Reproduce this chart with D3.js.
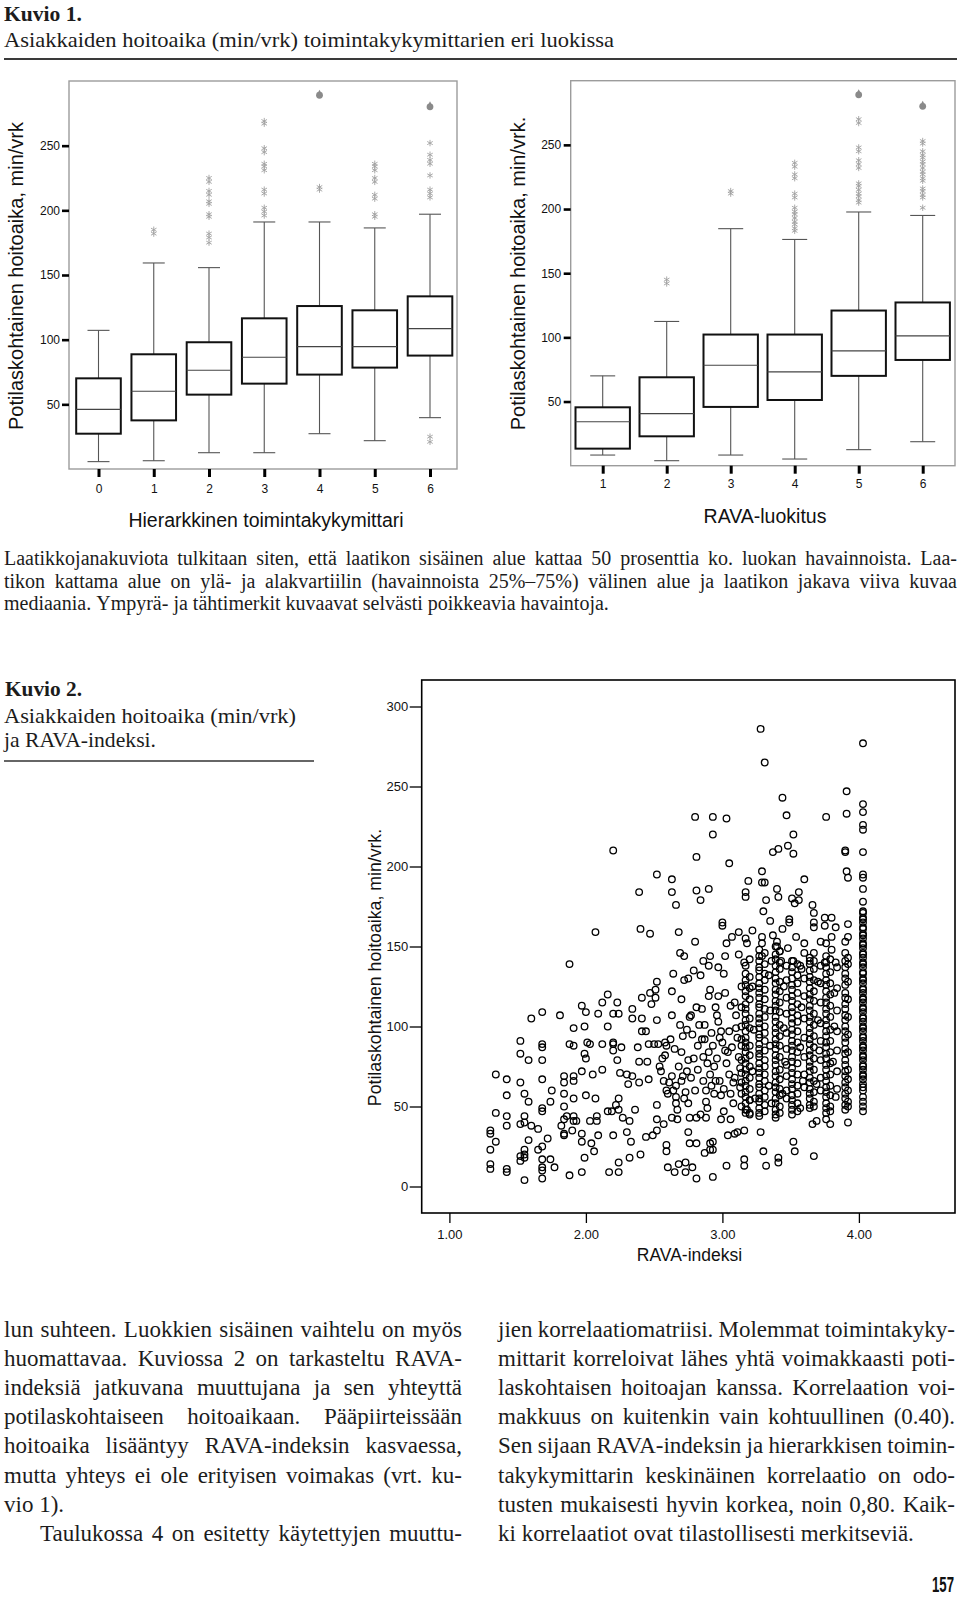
<!DOCTYPE html>
<html><head><meta charset="utf-8">
<script src="https://cdn.jsdelivr.net/npm/d3@7"></script>
<style>body{margin:0;background:#fff} svg{display:block}</style>
</head><body>
<svg id="page" width="960" height="1602"></svg>
<script>
// ---------------- DATA ----------------
// Kuvio 1, left: Hierarkkinen toimintakykymittari
const leftCats = ["0","1","2","3","4","5","6"];
const leftWhiskLo = [5.7, 6.4, 12.6, 12.6, 27.3, 21.9, 39.7];
const leftQ1 = [27.3, 37.6, 57.5, 66, 73, 78.4, 87.7];
const leftMed = [46.1, 60.1, 76.3, 86.4, 94.6, 94.6, 108.5];
const leftQ3 = [70.1, 88.7, 98, 116.5, 126, 122.7, 133.5];
const leftWhiskHi = [107.2, 159.3, 155.7, 191, 191, 186.4, 197];
const leftStars = [[], [185,182], [225,222,215,212,207,205,197,195,182,179,175],
  [269,267,248,245,236,234,231,216,213,202,199,196], [218,216],
  [236,234,231,225,222,212,209,197,195], [252,243,239,236,227,216,213,210,25,21]];
const leftExtremes = [[],[],[],[],[289],[],[280]];

// Kuvio 1, right: RAVA-luokitus
const rightCats = ["1","2","3","4","5","6"];
const rightWhiskLo = [8.3, 3.9, 8.3, 5.2, 12.5, 18.7];
const rightQ1 = [13.3, 22.9, 45.8, 51.2, 70, 82.4];
const rightMed = [34.3, 40.6, 78.3, 73.1, 89.5, 101.2];
const rightQ3 = [45.5, 68.9, 102.2, 102.2, 120.9, 127.2];
const rightWhiskHi = [70, 112.4, 184.7, 176.3, 197.7, 195];
const rightStars = [[], [145,142], [214,212],
  [236,233,227,224,212,209,201,198,196,193,190,188,185,183],
  [270,267,248,245,238,235,232,220,218,215,212,210,207,205],
  [253,251,245,242,240,237,235,232,229,227,224,222,216,214,211,209,201]];
const rightExtremes = [[],[],[],[],[289],[280]];

const boxTicks = [50,100,150,200,250];
const scatterYTicks = [0,50,100,150,200,250,300];
const scatterXTicks = [1,2,3,4];

// Kuvio 2: scatter, dense columns (x, list of y)
const colX = [3.14, 3.17, 3.20, 3.27, 3.31, 3.39, 3.42, 3.47, 3.51, 3.55, 3.60, 3.64, 3.67, 3.72, 3.76, 3.79, 3.84, 3.90, 3.92, 4.03];
const colY = [
 [125,112,100,92,79,71,65,58,50],
 [138,133,129,126,122,119,114,111,108,104,101,97,93,90,87,84,80,77,73,70,66,63,59,56,52,48,46],
 [142,131,124,117,105,99,88,82,75,68,61,54,45],
 [148,144,141,137,135,131,127,124,121,118,114,112,108,105,102,99,95,93,89,86,83,81,77,74,71,68,64,62,58,55,53,49,46,44],
 [146,139,133,129,123,117,111,106,100,96,91,85,79,75,70,66,60,56,51,47],
 [150,145,142,138,134,130,127,123,120,116,113,110,106,103,99,96,92,89,86,82,79,76,72,69,65,62,59,55,52,48,45,43],
 [147,140,136,128,122,115,109,101,94,88,81,73,67,61,57,50,46],
 [138,129,118,108,96,86,76,69,60,55],
 [141,137,134,130,126,123,119,116,112,109,105,102,98,95,91,88,85,81,78,74,71,67,64,61,57,54,51,48,45],
 [139,132,127,121,114,107,103,97,90,84,77,70,63,58,52,47],
 [130,119,105,93,81,70,62],
 [143,139,135,131,128,124,120,117,113,110,106,103,99,96,92,89,85,82,78,75,72,68,65,61,58,55,51,49],
 [141,136,129,122,116,108,101,94,87,80,73,66,59,53,50],
 [138,127,115,102,91,79,68,60],
 [144,140,137,133,129,126,122,118,115,111,108,104,101,97,94,90,87,83,80,76,73,69,66,62,59,56,52,49,46],
 [142,134,127,120,113,106,98,91,84,77,70,63,57,50,47],
 [137,124,110,97,85,72,61],
 [146,141,137,133,130,126,121,118,114,111,107,104,100,97,93,90,86,83,79,76,72,69,65,62,58,55,51,48],
 [139,128,117,106,95,84,73,67,60,53,50],
 [172,171,168,167,165,162,161,158,157,155,152,151,149,146,145,143,140,139,137,134,133,130,129,127,124,123,121,118,117,115,112,111,109,106,105,103,100,99,97,94,93,91,88,87,85,82,81,79,76,75,73,70,69,67,64,62,60,56,53,50,47]
];
// Kuvio 2: scattered single points [x, y]
const scatterPts = [
 [3.28,286],[4.03,277],[3.31,265],[3.91,247],[3.44,243],[4.03,239],[3.91,233],[4.03,234],[2.80,231],[2.93,231],[3.03,230],[3.47,232],[3.76,231],[4.03,226],[4.03,223],[2.93,220],[3.52,220],[3.48,213],[3.41,211],[3.37,209],[3.52,208],[2.20,210],[3.90,210],[3.90,209],[4.03,209],[2.81,206],[3.05,202],[3.29,197],[3.91,197],[3.92,193],[4.03,195],[4.03,193],[2.52,195],[2.63,192],[3.60,192],[3.19,191],[3.29,190],[3.31,190],[2.39,184],[2.63,184],[2.81,185],[2.90,186],[3.17,184],[3.17,181],[3.40,186],[3.41,181],[3.56,184],[3.51,180],[3.53,177],[3.56,179],[3.32,179],[4.03,186],[4.03,178],[2.66,176],[2.84,179],[3.66,176],[3.67,171],[3.30,172],[3.35,166],[3.49,167],[3.49,165],[3.00,165],[3.00,163],[3.67,165],[3.67,162],[3.75,168],[3.80,168],[3.75,163],[3.83,162],[3.92,164],[2.40,161],[2.07,159],[2.47,158],[2.68,159],[3.12,159],[3.07,156],[3.22,160],[3.29,156],[3.44,161],[3.37,157],[3.54,156],[3.80,156],[2.80,153],[3.03,152],[3.17,155],[3.18,152],[3.29,152],[3.40,153],[3.60,152],[3.72,153],[3.76,152],[3.90,153],[3.92,156],[3.80,148],[3.48,149],[3.40,150],[2.69,146],[2.72,144],[3.02,144],[3.12,145],[2.91,144],[3.60,146],[3.67,146],[3.42,147],[3.29,144],[3.92,143],[1.88,139],[2.86,141],[2.90,138],[2.97,137],[3.16,140],[3.36,141],[3.43,141],[3.52,141],[3.57,138],[3.64,141],[3.75,140],[3.83,140],
 [1.30,35],[1.30,33],[1.30,23],[1.30,14],[1.30,11],[1.34,70],[1.34,46],[1.34,28],[1.42,67],[1.42,57],[1.42,44],[1.42,38],[1.42,11],[1.42,9],[1.52,91],[1.52,83],[1.52,65],[1.52,39],[1.52,19],[1.52,16],[1.55,58],[1.55,44],[1.55,40],[1.55,23],[1.55,20],[1.55,18],[1.55,4],[1.58,79],[1.58,53],[1.58,29],[1.60,105],[1.60,38],[1.65,36],[1.65,23],[1.68,109],[1.68,89],[1.68,87],[1.68,79],[1.68,67],[1.68,49],[1.68,47],[1.68,25],[1.68,17],[1.68,12],[1.68,10],[1.68,5],[1.72,30],[1.74,53],[1.74,17],[1.75,60],[1.77,12],[1.81,107],[1.82,38],[1.84,32],[1.84,69],[1.84,65],[1.84,58],[1.84,50],[1.84,42],[1.84,33],[1.86,44],[1.88,89],[1.88,7],[1.90,35],[1.91,88],[1.91,99],[1.91,69],[1.91,66],[1.91,44],[1.91,41],[1.93,41],[1.91,55],[1.97,113],[1.97,72],[1.97,33],[1.97,28],[1.97,9],[1.99,83],[1.99,100],[1.99,18],[2.00,109],[2.00,80],[2.00,57],[2.01,90],[2.03,89],[2.03,41],[2.04,27],[2.05,70],[2.06,22],[2.07,55],[2.08,44],[2.08,41],[2.09,108],[2.09,32],[2.12,89],[2.12,73],[2.12,115],[2.16,120],[2.16,100],[2.16,47],[2.17,9],[2.19,47],[2.20,108],[2.20,90],[2.20,89],[2.20,85],[2.20,32],[2.22,51],[2.23,115],[2.23,79],[2.24,108],[2.24,55],[2.24,48],[2.24,15],[2.24,9],[2.25,71],[2.26,87],[2.27,43],[2.30,34],[2.30,70],[2.31,64],[2.32,41],[2.32,18],[2.33,28],[2.34,111],[2.34,105],[2.34,69],[2.36,48],[2.38,87],[2.39,65],[2.39,78],[2.40,20],[2.41,118],[2.41,97],[2.41,105],[2.44,97],[2.44,31],[2.45,78],[2.46,67],[2.46,89],[2.47,121],[2.48,114],[2.49,32],[2.50,89],[2.51,118],[2.51,123],[2.52,128],[2.52,104],[2.52,51],[2.52,42],[2.52,35],[2.53,89],[2.54,75],[2.56,80],[2.57,39],[2.58,90],[2.58,82],[2.59,88],[2.59,26],[2.59,22],[2.60,12],[2.60,58],[2.61,65],[2.63,107],[2.63,122],[2.63,69],[2.63,43],[2.64,133],[2.65,9],[2.66,56],[2.66,63],[2.67,48],[2.67,42],[2.68,14],[2.70,84],[2.70,117],[2.71,94],[2.71,69],[2.72,129],[2.73,59],[2.73,15],[2.73,9],[2.74,98],[2.75,52],[2.75,130],[2.75,34],[2.75,79],[2.76,27],[2.76,106],[2.77,107],[2.78,12],[2.79,135],[2.81,43],[2.81,5],[2.81,27],[2.82,88],[2.82,73],[2.84,132],[2.85,111],[2.86,81],[2.87,101],[2.87,92],[2.87,21],[2.88,60],[2.88,43],[2.88,53],[2.90,119],[2.91,123],[2.91,27],[2.91,23],[2.93,28],[2.93,23],[2.93,6],[2.94,75],[2.95,66],[2.96,107],[2.97,119],[2.98,93],[2.99,42],[2.99,57],[3.01,133],[3.01,47],[3.02,121],[3.03,13],[3.04,32],[3.04,84],[3.05,97],[3.06,42],[3.06,113],[3.08,65],[3.09,33],[3.09,115],[3.11,34],[3.14,88],[3.16,35],[3.16,17],[3.16,13],[3.18,48],[3.20,46],[3.20,54],[3.30,22],[3.28,34],[3.32,13],[3.41,18],[3.41,15],[3.52,28],[3.53,22],[3.67,19],[3.66,39],[3.69,41],[3.76,42],[3.79,39],[3.92,40],
 [2.95,112],[2.97,103],[2.99,97],[3.00,90],[3.02,85],[2.96,80],[3.03,77],[3.05,70],[2.98,66],[3.01,61],[3.06,58],[3.08,52],[3.10,99],[3.11,93],[3.12,81],[3.13,74],[3.09,68],[3.10,107],[3.13,62],[3.07,87],[2.92,96],[2.93,88],[2.90,84],[2.89,77],[2.91,70],[2.92,63],[2.94,58],[2.89,49],[2.86,66],[2.85,92],[2.84,45],
 [2.62,92],[2.65,86],[2.68,75],[2.70,66],[2.72,55],[2.77,68],[2.79,80],[2.78,95],[2.80,60],[2.76,43],[2.69,101],[2.64,60],[2.66,52],[2.74,72],[2.81,112],[2.83,101],[2.55,72],[2.57,66],[2.59,60],
 [3.22,125],[3.23,98],[3.22,72],[3.24,55],[3.34,132],[3.35,110],[3.35,88],[3.34,63],[3.36,52],[3.45,125],[3.45,99],[3.46,78],[3.44,58],[3.58,136],[3.58,112],[3.57,87],[3.59,66],[3.57,49],[3.70,128],[3.70,104],[3.71,85],[3.69,64],[3.82,121],[3.82,100],[3.81,78],[3.83,56]
];

// Texts
const fig1Title = ["Kuvio 1.", "Asiakkaiden hoitoaika (min/vrk) toimintakykymittarien eri luokissa"];
const fig1Note = [
 "Laatikkojanakuviota tulkitaan siten, että laatikon sisäinen alue kattaa 50 prosenttia ko. luokan havainnoista. Laa-",
 "tikon kattama alue on ylä- ja alakvartiilin (havainnoista 25%–75%) välinen alue ja laatikon jakava viiva kuvaa",
 "mediaania. Ympyrä- ja tähtimerkit kuvaavat selvästi poikkeavia havaintoja."];
const fig2Title = ["Kuvio 2.", "Asiakkaiden hoitoaika (min/vrk)", "ja RAVA-indeksi."];
const bodyLeft = [
 "lun suhteen. Luokkien sisäinen vaihtelu on myös",
 "huomattavaa. Kuviossa 2 on tarkasteltu RAVA-",
 "indeksiä jatkuvana muuttujana ja sen yhteyttä",
 "potilaskohtaiseen hoitoaikaan. Pääpiirteissään",
 "hoitoaika lisääntyy RAVA-indeksin kasvaessa,",
 "mutta yhteys ei ole erityisen voimakas (vrt. ku-",
 "vio 1).",
 "Taulukossa 4 on esitetty käytettyjen muuttu-"];
const bodyRight = [
 "jien korrelaatiomatriisi. Molemmat toimintakyky-",
 "mittarit korreloivat lähes yhtä voimakkaasti poti-",
 "laskohtaisen hoitoajan kanssa. Korrelaation voi-",
 "makkuus on kuitenkin vain kohtuullinen (0.40).",
 "Sen sijaan RAVA-indeksin ja hierarkkisen toimin-",
 "takykymittarin keskinäinen korrelaatio on odo-",
 "tusten mukaisesti hyvin korkea, noin 0,80. Kaik-",
 "ki korrelaatiot ovat tilastollisesti merkitseviä."];
const pageNumber = "157";

// ---------------- DRAW ----------------
const svg = d3.select("#page");
svg.append("rect").attr("width",960).attr("height",1602).attr("fill","#fff");
const SERIF = "'Liberation Serif', 'DejaVu Serif', serif";
const SANS = "'Liberation Sans', Arial, sans-serif";

// text line helper: justify by spacing words
function textLine(str, x, y, o) {
  const g = svg.append("g");
  const mk = s => g.append("text").attr("y", y)
      .attr("font-family", o.family).attr("font-size", o.size)
      .attr("font-weight", o.weight || "normal").attr("fill", o.fill || "#1c1c1c").text(s);
  if (o.fit) {
    mk(str).attr("x", x).attr("textLength", o.width).attr("lengthAdjust", "spacingAndGlyphs");
    return;
  }
  const a1 = mk("a a"), a2 = mk("aa");
  const spW = a1.node().getComputedTextLength() - a2.node().getComputedTextLength();
  a1.remove(); a2.remove();
  const words = str.split(" ");
  const ws = words.map(w => { const t = mk(w); const l = t.node().getComputedTextLength(); t.remove(); return l; });
  const sum = d3.sum(ws);
  let gap = spW;
  if (o.justify && words.length > 1) gap = (o.width - sum) / (words.length - 1);
  if (o.justify && gap < 0.6 * spW) {
    mk(str).attr("x", x).attr("textLength", o.width).attr("lengthAdjust", "spacingAndGlyphs");
    return;
  }
  let cx = x;
  words.forEach((w, i) => { mk(w).attr("x", cx); cx += ws[i] + gap; });
}

// ----- Header Kuvio 1
textLine(fig1Title[0], 4, 21, {family: SERIF, size: 21, weight: "bold", fit: true, width: 78});
textLine(fig1Title[1], 4, 47, {family: SERIF, size: 21, fit: true, width: 610});
svg.append("line").attr("x1",4).attr("x2",957).attr("y1",59).attr("y2",59).attr("stroke","#3a3a3a").attr("stroke-width",2);

// ----- Boxplot helper
function boxplot(c) {
  const g = svg.append("g");
  const x = d3.scalePoint().domain(c.cats).range(c.xRange);
  const y = d3.scaleLinear().domain([0,300]).range([c.bottom, c.top]);
  g.append("rect").attr("x", c.left).attr("y", c.top).attr("width", c.right - c.left).attr("height", c.bottom - c.top)
    .attr("fill","none").attr("stroke","#9c9c9c").attr("stroke-width",1.4);
  c.cats.forEach((k, i) => {
    const cx = x(k);
    g.append("line").attr("x1",cx).attr("x2",cx).attr("y1",y(c.q3[i])).attr("y2",y(c.hi[i])).attr("stroke","#555").attr("stroke-width",1.1);
    g.append("line").attr("x1",cx).attr("x2",cx).attr("y1",y(c.q1[i])).attr("y2",y(c.lo[i])).attr("stroke","#555").attr("stroke-width",1.1);
    [c.hi[i], c.lo[i]].forEach(v => g.append("line").attr("x1",cx - c.cap).attr("x2",cx + c.cap)
        .attr("y1",y(v)).attr("y2",y(v)).attr("stroke","#555").attr("stroke-width",1.1));
    g.append("rect").attr("x",cx - c.hw).attr("y",y(c.q3[i])).attr("width",2*c.hw).attr("height",y(c.q1[i]) - y(c.q3[i]))
      .attr("fill","#fff").attr("stroke","#111").attr("stroke-width",2);
    g.append("line").attr("x1",cx - c.hw).attr("x2",cx + c.hw).attr("y1",y(c.med[i])).attr("y2",y(c.med[i])).attr("stroke","#444").attr("stroke-width",1.1);
    c.stars[i].forEach(v => {
      const sg = g.append("g").attr("transform", `translate(${cx},${y(v)})`);
      [90, 30, 150].forEach(a => {
        const r = 3.2, rad = a * Math.PI / 180;
        sg.append("line").attr("x1", -r*Math.cos(rad)).attr("y1", -r*Math.sin(rad)).attr("x2", r*Math.cos(rad)).attr("y2", r*Math.sin(rad))
          .attr("stroke","#a0a0a0").attr("stroke-width",0.9);
      });
    });
    c.ext[i].forEach(v => {
      g.append("circle").attr("cx",cx).attr("cy",y(v)).attr("r",3.4).attr("fill","#8a8a8a");
      g.append("path").attr("d",`M${cx-1.6},${y(v)-2.6} L${cx},${y(v)-5.5} L${cx+1.6},${y(v)-2.6} Z`).attr("fill","#8a8a8a");
    });
  });
  const ya = g.append("g").attr("transform",`translate(${c.left},0)`)
    .call(d3.axisLeft(y).tickValues(boxTicks).tickSize(7).tickPadding(c.yPad));
  ya.select(".domain").remove();
  ya.selectAll("line").attr("stroke","#000").attr("stroke-width",2.6);
  ya.selectAll("text").attr("font-family",SANS).attr("font-size",12).attr("fill","#111");
  const xa = g.append("g").attr("transform",`translate(0,${c.bottom})`)
    .call(d3.axisBottom(x).tickSize(8).tickPadding(c.xPad));
  xa.select(".domain").remove();
  xa.selectAll("line").attr("stroke","#000").attr("stroke-width",3);
  xa.selectAll("text").attr("font-family",SANS).attr("font-size",12).attr("fill","#111");
  g.append("text").attr("x",c.xTitleX).attr("y",c.xTitleY).attr("text-anchor","middle")
    .attr("font-family",SANS).attr("font-size",19.5).attr("fill","#111").text(c.xTitle);
  g.append("text").attr("transform",`translate(${c.yTitleX},${c.yTitleY}) rotate(-90)`).attr("text-anchor","middle")
    .attr("font-family",SANS).attr("font-size",20).attr("fill","#111").text(c.yTitle);
}

boxplot({cats: leftCats, xRange: [98.5, 430], left: 69, right: 457, top: 81, bottom: 469,
  lo: leftWhiskLo, q1: leftQ1, med: leftMed, q3: leftQ3, hi: leftWhiskHi, stars: leftStars, ext: leftExtremes,
  hw: 22.3, cap: 11, yPad: 2, xPad: 7,
  xTitle: "Hierarkkinen toimintakykymittari", xTitleX: 266, xTitleY: 527,
  yTitle: "Potilaskohtainen hoitoaika, min/vrk", yTitleX: 23, yTitleY: 276});
boxplot({cats: rightCats, xRange: [602.7, 922.7], left: 570.7, right: 955, top: 80.7, bottom: 465.7,
  lo: rightWhiskLo, q1: rightQ1, med: rightMed, q3: rightQ3, hi: rightWhiskHi, stars: rightStars, ext: rightExtremes,
  hw: 27.2, cap: 12.5, yPad: 2.5, xPad: 6,
  xTitle: "RAVA-luokitus", xTitleX: 765, xTitleY: 523,
  yTitle: "Potilaskohtainen hoitoaika, min/vrk.", yTitleX: 525, yTitleY: 273.5});

// ----- Kuvio 1 note
const noteY = [565, 587.5, 610];
fig1Note.forEach((s, i) => textLine(s, 4, noteY[i], {family: SERIF, size: 20, justify: i < 2, width: 953}));

// ----- Kuvio 2 title
textLine(fig2Title[0], 5, 696, {family: SERIF, size: 21, weight: "bold", fit: true, width: 77});
textLine(fig2Title[1], 4, 723, {family: SERIF, size: 22, fit: true, width: 292});
textLine(fig2Title[2], 4, 747, {family: SERIF, size: 22, fit: true, width: 152});
svg.append("line").attr("x1",4).attr("x2",314).attr("y1",761).attr("y2",761).attr("stroke","#333").attr("stroke-width",1.5);

// ----- Scatter
(function(){
  const g = svg.append("g");
  const L = 421.7, R = 955, T = 680, B = 1213;
  const x = d3.scaleLinear().domain([1,4]).range([449.4, 858.9]);
  const y = d3.scaleLinear().domain([0,300]).range([1186.5, 706.5]);
  const pts = scatterPts.slice();
  colX.forEach((cx, i) => colY[i].forEach(v => pts.push([cx, v])));
  g.selectAll("circle.pt").data(pts).join("circle").attr("class","pt")
    .attr("cx", d => x(d[0])).attr("cy", d => y(d[1])).attr("r", 3.3)
    .attr("fill","none").attr("stroke","#000").attr("stroke-width",1.3);
  g.append("rect").attr("x",L).attr("y",T).attr("width",R-L).attr("height",B-T)
    .attr("fill","none").attr("stroke","#000").attr("stroke-width",1.6);
  const ya = g.append("g").attr("transform",`translate(${L},0)`)
    .call(d3.axisLeft(y).tickValues(scatterYTicks).tickSize(12).tickPadding(1.5).tickFormat(d3.format("d")));
  ya.select(".domain").remove();
  ya.selectAll("line").attr("stroke","#000").attr("stroke-width",1.3);
  ya.selectAll("text").attr("font-family",SANS).attr("font-size",13).attr("fill","#111");
  const xa = g.append("g").attr("transform",`translate(0,${B})`)
    .call(d3.axisBottom(x).tickValues(scatterXTicks).tickSize(10).tickPadding(7).tickFormat(d3.format(".2f")));
  xa.select(".domain").remove();
  xa.selectAll("line").attr("stroke","#000").attr("stroke-width",1.3);
  xa.selectAll("text").attr("font-family",SANS).attr("font-size",13).attr("fill","#111");
  g.append("text").attr("x",689.5).attr("y",1261).attr("text-anchor","middle")
    .attr("font-family",SANS).attr("font-size",17.5).attr("fill","#111").text("RAVA-indeksi");
  g.append("text").attr("transform","translate(381,967.5) rotate(-90)").attr("text-anchor","middle")
    .attr("font-family",SANS).attr("font-size",17.7).attr("fill","#111").text("Potilaskohtainen hoitoaika, min/vrk.");
})();

// ----- Body text
const bodyY0 = 1337, bodyDY = 29.1;
bodyLeft.forEach((s, i) => {
  const indent = i === 7 ? 40 : 4;
  textLine(s, indent, bodyY0 + i*bodyDY, {family: SERIF, size: 23, justify: i !== 6, width: 462 - indent});
});
bodyRight.forEach((s, i) => {
  textLine(s, 498, bodyY0 + i*bodyDY, {family: SERIF, size: 23, justify: i !== 7, width: 457});
});
// page number (condensed bold, right-aligned, horizontally squeezed via transform)
svg.append("text").attr("transform","translate(954,1592) scale(0.6,1)").attr("text-anchor","end")
  .attr("font-family",SANS).attr("font-weight","bold").attr("font-size",22)
  .attr("fill","#111").text(pageNumber);
</script></body></html>
